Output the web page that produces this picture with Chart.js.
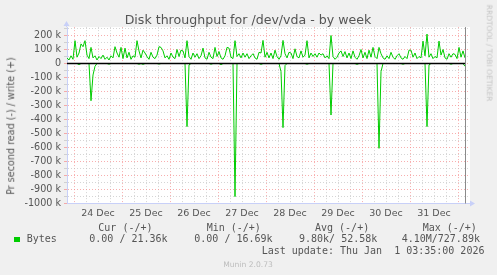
<!DOCTYPE html>
<html><head><meta charset="utf-8">
<script src="https://cdn.jsdelivr.net/npm/chart.js@4"></script>
<style>
html,body{margin:0;padding:0;background:#f0f0f0;}
#wrap{position:relative;width:497px;height:275px;overflow:hidden;background:#f0f0f0;}
canvas{position:absolute;left:0;top:0;}
.t{position:absolute;white-space:pre;line-height:1;margin:0;}
</style></head><body>
<div id="wrap"><canvas id="c" width="497" height="275" style="width:497px;height:275px"></canvas></div>
<script>
// ---- data ----
const title = "Disk throughput for /dev/vda - by week";
const yAxisTitle = "Pr second read (-) / write (+)";
const days = ["24 Dec","25 Dec","26 Dec","27 Dec","28 Dec","29 Dec","30 Dec","31 Dec"];
// hours relative to 24 Dec 00:00; samples every hour starting at -3.5
const SAMPLE_START_HOUR = -3.5;
const SAMPLE_STEP_HOURS = 1;
const LAST_UPDATE_HOUR = 195.58;
// write bytes/s (k), positive side
const writeK = [
 40,25,55,30,163,45,75,140,120,163,60,35,115,40,55,25,50,35,60,30,
 45,25,55,40,120,75,45,115,35,110,40,80,30,55,45,163,90,40,95,75,
 50,30,80,45,35,60,120,115,90,40,55,30,75,45,35,100,50,95,90,40,
 163,50,30,75,45,70,35,55,110,40,30,80,45,35,115,50,85,40,30,55,
 115,110,45,35,163,50,70,40,75,45,70,35,55,70,40,30,80,75,165,45,
 80,40,75,35,95,50,30,55,165,70,40,80,75,35,105,50,40,90,45,60,
 163,40,75,50,70,45,75,60,70,40,55,35,200,50,30,45,75,90,50,85,
 40,75,35,90,45,30,55,100,40,80,35,95,45,115,50,35,115,70,40,30,
 55,35,80,45,30,55,70,40,30,50,35,95,95,45,75,35,50,40,160,55,
 210,45,70,35,50,40,160,60,100,40,30,70,45,70,65,35,115,45,90,40
];
// read bytes/s (k), drawn on the negative side
const readK = [
 0,0,0,0,0,0,8,0,0,0,0,0,266,82,20,0,0,0,0,0,
 0,5,0,0,0,0,0,0,0,0,0,0,0,0,0,0,5,0,6,0,
 0,0,0,0,0,0,4,0,0,0,0,0,0,0,0,0,0,0,0,0,
 451,10,0,0,0,0,0,0,0,0,0,0,5,0,0,0,0,8,0,0,
 0,0,0,0,951,0,0,0,0,0,0,0,0,0,0,0,0,6,0,0,
 0,0,0,0,0,0,0,58,458,15,0,0,0,0,0,0,0,0,0,0,
 5,0,0,0,0,0,0,0,0,0,0,0,368,0,0,0,0,0,0,0,
 0,0,0,0,0,6,0,0,0,0,0,0,0,0,0,0,606,58,0,0,
 0,0,0,0,0,0,0,0,5,0,0,0,0,0,0,0,0,0,0,0,
 451,10,0,0,0,0,0,0,0,0,0,0,5,0,0,0,0,0,0,20
];
const yTickValues = [250,200,150,100,50,0,-50,-100,-150,-200,-250,-300,-350,-400,-450,-500,-550,-600,-650,-700,-750,-800,-850,-900,-950,-1000];
const xGridHours = [0,6,12,18,24,30,36,42,48,54,60,66,72,78,84,90,96,102,108,114,120,126,132,138,144,150,156,162,168,174,180,186,192];
const legendHeaders = ["Cur (-/+)","Min (-/+)","Avg (-/+)","Max (-/+)"];
const legendSeries = "Bytes";
const legendValues = ["0.00 / 21.36k","0.00 / 16.69k","9.80k/ 52.58k","4.10M/727.89k"];
const lastUpdate = "Last update: Thu Jan  1 03:35:00 2026";
const footer = "Munin 2.0.73";
const sideText = "RRDTOOL / TOBI OETIKER";

// ---- chart ----
const GREEN = '#00cc00';
const AXIS = '#c8d0f8';
const RED_GRID = 'rgba(245,140,140,0.7)';
const GRAY_GRID = 'rgba(190,190,190,0.65)';
const hourOf = i => SAMPLE_START_HOUR + i * SAMPLE_STEP_HOURS;

const deco = {
  id: 'deco',
  beforeDraw(chart) {
    const {ctx, chartArea: a} = chart;
    ctx.save();
    ctx.fillStyle = '#fff';
    ctx.fillRect(a.left, a.top, a.right - a.left, a.bottom - a.top);
    ctx.restore();
  },
  afterDatasetsDraw(chart) {
    const {ctx, chartArea: a, scales: {x, y}} = chart;
    const y0 = y.getPixelForValue(0);
    const xe = Math.round(x.getPixelForValue(LAST_UPDATE_HOUR)) + 0.5;
    ctx.save();
    ctx.strokeStyle = '#000';
    ctx.lineWidth = 1.5;
    ctx.beginPath(); ctx.moveTo(a.left, y0); ctx.lineTo(xe, y0); ctx.stroke();
    ctx.strokeStyle = '#8a8a8a';
    ctx.lineWidth = 1;
    ctx.beginPath(); ctx.moveTo(xe, a.top); ctx.lineTo(xe, a.bottom); ctx.stroke();
    // axis extensions + arrows
    ctx.strokeStyle = AXIS; ctx.fillStyle = AXIS;
    const lx = Math.round(a.left) - 0.5, by = Math.round(a.bottom) - 0.5;
    ctx.beginPath(); ctx.moveTo(lx, a.top); ctx.lineTo(lx, a.top - 2); ctx.stroke();
    ctx.beginPath(); ctx.moveTo(lx - 3, a.top - 1); ctx.lineTo(lx + 3, a.top - 1); ctx.lineTo(lx, a.top - 6); ctx.closePath(); ctx.fill();
    ctx.beginPath(); ctx.moveTo(a.right, by); ctx.lineTo(a.right + 1, by); ctx.stroke();
    ctx.beginPath(); ctx.moveTo(a.right, by - 3); ctx.lineTo(a.right, by + 3); ctx.lineTo(a.right + 5, by); ctx.closePath(); ctx.fill();
    ctx.restore();
  }
};

new Chart(document.getElementById('c'), {
  type: 'line',
  data: {
    datasets: [
      {label: 'write', data: writeK.map((v, i) => ({x: hourOf(i), y: v})),
       borderColor: GREEN, borderWidth: 1, pointRadius: 0, fill: false, tension: 0},
      {label: 'read', data: readK.map((v, i) => ({x: hourOf(i), y: -v})),
       borderColor: GREEN, borderWidth: 1, pointRadius: 0, fill: false, tension: 0}
    ]
  },
  options: {
    responsive: false,
    animation: false,
    devicePixelRatio: 1,
    layout: {padding: {top: 27.1, right: 27, left: 0, bottom: 0}},
    plugins: {legend: {display: false}, title: {display: false}, tooltip: {enabled: false}},
    scales: {
      x: {
        type: 'linear', min: -3.5, max: 198,
        afterBuildTicks(s) { s.ticks = xGridHours.map(v => ({value: v})); },
        afterFit(s) { s.height = 275 - 203.5; },
        ticks: {autoSkip: false, maxRotation: 0, minRotation: 0, padding: 1,
          font: {family: 'DejaVu Sans', size: 9.5}, color: '#555',
          callback: v => (v % 24 === 12 ? (days[(v - 12) / 24] || '') : '')},
        grid: {color: c => (c.tick && c.tick.value % 24 === 0 ? RED_GRID : GRAY_GRID),
          lineWidth: 1, drawTicks: true, tickLength: 3, tickColor: 'rgba(0,0,0,0)'},
        border: {color: AXIS, width: 1, dash: [1, 2]}
      },
      y: {
        type: 'linear', min: -1000, max: 260,
        afterBuildTicks(s) { s.ticks = yTickValues.map(v => ({value: v})); },
        afterFit(s) { s.width = 67; },
        ticks: {autoSkip: false, padding: 3,
          font: {family: 'DejaVu Sans', size: 9.6}, color: '#555',
          callback: v => (v % 100 === 0 ? (v === 0 ? '0' : v + ' k') : '')},
        grid: {color: c => (c.tick && c.tick.value % 100 === 0 ? RED_GRID : GRAY_GRID),
          lineWidth: 1, drawTicks: true, tickLength: 3,
          tickColor: c => (c.tick && c.tick.value % 100 === 0 ? RED_GRID : GRAY_GRID)},
        border: {color: AXIS, width: 1, dash: [1, 2]}
      }
    }
  },
  plugins: [deco]
});

// ---- text overlay ----
const wrap = document.getElementById('wrap');
function addText(txt, o) {
  const d = document.createElement('div');
  d.className = 't';
  d.textContent = txt;
  const size = o.size;
  d.style.fontFamily = o.family || '"DejaVu Sans"';
  d.style.fontSize = size + 'px';
  d.style.color = o.color || '#555';
  d.style.left = o.x + 'px';
  d.style.top = (o.base - 0.846 * size) + 'px';
  if (o.center) d.style.transform = 'translateX(-50%)';
  wrap.appendChild(d);
  return d;
}
function addRotated(txt, o) {
  const d = document.createElement('div');
  d.className = 't';
  d.textContent = txt;
  d.style.fontFamily = '"DejaVu Sans"';
  d.style.fontSize = o.size + 'px';
  d.style.color = o.color;
  d.style.left = o.cx + 'px';
  d.style.top = o.cy + 'px';
  d.style.transform = 'translate(-50%,-50%) rotate(' + o.deg + 'deg)';
  wrap.appendChild(d);
}
addText(title, {x: 248, base: 24.3, size: 12.6, center: true, color: '#555'});
addRotated(yAxisTitle, {cx: 10.5, cy: 126, size: 9.6, deg: -90, color: '#555'});
addRotated(sideText, {cx: 489, cy: 53, size: 7.5, deg: 90, color: '#c4c4c4'});
const MONO = '"DejaVu Sans Mono"';
const headerX = [98.3, 206.7, 315, 422.7];
legendHeaders.forEach((h, i) => addText(h, {x: headerX[i], base: 231, size: 10, family: MONO, color: '#555'}));
const sw = document.createElement('div');
sw.style.cssText = 'position:absolute;left:14px;top:236.7px;width:5.5px;height:5.5px;background:' + GREEN;
wrap.appendChild(sw);
addText(legendSeries, {x: 26.7, base: 242.6, size: 10, family: MONO, color: '#555'});
const valueX = [89.3, 194.3, 299, 401.7];
legendValues.forEach((v, i) => addText(v, {x: valueX[i], base: 242.6, size: 10, family: MONO, color: '#555'}));
addText(lastUpdate, {x: 261.7, base: 254.3, size: 10, family: MONO, color: '#555'});
addText(footer, {x: 248, base: 267, size: 7.6, center: true, color: '#bdbdbd'});
</script>
</body></html>
